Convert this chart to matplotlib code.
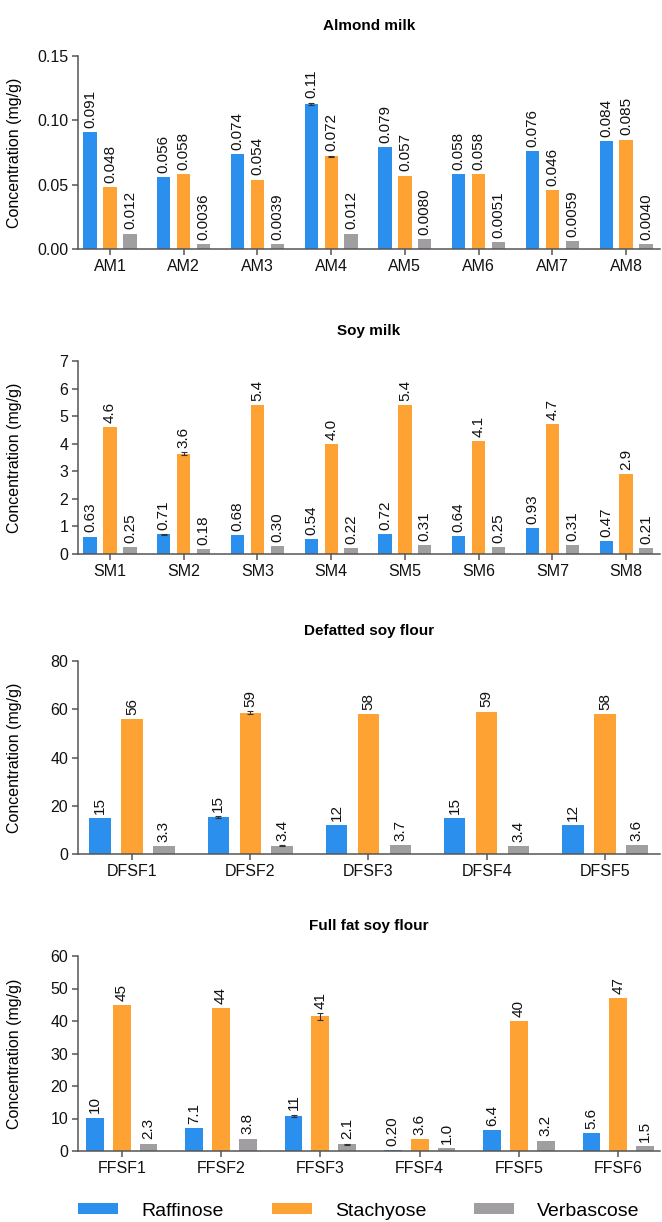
import math

import matplotlib
matplotlib.use("Agg")
import matplotlib.pyplot as plt
import numpy as np
from matplotlib.patches import Patch

plt.rcParams['font.family'] = ['Liberation Sans', 'DejaVu Sans']

# sugar content per sample (mg/g)
am_samples = ["AM1", "AM2", "AM3", "AM4", "AM5", "AM6", "AM7", "AM8"]
am_raffinose = [0.091, 0.056, 0.074, 0.113, 0.079, 0.058, 0.076, 0.084]
am_stachyose = [0.048, 0.058, 0.054, 0.072, 0.057, 0.058, 0.046, 0.085]
am_verbascose = [0.012, 0.0036, 0.0039, 0.012, 0.0080, 0.0051, 0.0059, 0.0040]
am_err_raf = [0, 0, 0, 0.0008, 0, 0, 0, 0]
am_err_sta = [0, 0, 0, 0.0006, 0, 0, 0, 0]

sm_samples = ["SM1", "SM2", "SM3", "SM4", "SM5", "SM6", "SM7", "SM8"]
sm_raffinose = [0.63, 0.71, 0.68, 0.54, 0.72, 0.64, 0.93, 0.47]
sm_stachyose = [4.6, 3.64, 5.4, 4.0, 5.4, 4.1, 4.7, 2.9]
sm_verbascose = [0.25, 0.18, 0.30, 0.22, 0.31, 0.25, 0.31, 0.21]
sm_err_raf = [0, 0.02, 0, 0, 0, 0, 0, 0]
sm_err_sta = [0, 0.05, 0, 0, 0, 0, 0, 0]

dfsf_samples = ["DFSF1", "DFSF2", "DFSF3", "DFSF4", "DFSF5"]
dfsf_raffinose = [15, 15.3, 12, 15, 12]
dfsf_stachyose = [56, 58.6, 58, 59, 58]
dfsf_verbascose = [3.3, 3.4, 3.7, 3.4, 3.6]
dfsf_err_raf = [0, 0.3, 0, 0, 0]
dfsf_err_sta = [0, 0.7, 0, 0, 0]
dfsf_err_ver = [0, 0.2, 0, 0, 0]

ffsf_samples = ["FFSF1", "FFSF2", "FFSF3", "FFSF4", "FFSF5", "FFSF6"]
ffsf_raffinose = [10.3, 7.1, 10.8, 0.20, 6.4, 5.6]
ffsf_stachyose = [45, 44, 41.4, 3.6, 40, 47]
ffsf_verbascose = [2.3, 3.8, 2.1, 1.0, 3.2, 1.5]
ffsf_err_raf = [0, 0, 0.4, 0, 0, 0]
ffsf_err_sta = [0, 0, 1.0, 0, 0, 0]
ffsf_err_ver = [0, 0, 0.2, 0, 0, 0]

sugars = ["Raffinose", "Stachyose", "Verbascose"]
colors = ["#2B8FEE", "#FFA234", "#A09EA0"]


def two_sig(v):
    if v == 0:
        return "0"
    d = 1 - int(math.floor(math.log10(abs(v))))
    return f"{v:.{max(d, 0)}f}"


def panel(ax, title, samples, series, errors, ymax, yticks, yfmt, xlim):
    x = np.arange(len(samples))
    offsets = [-0.27, 0.0, 0.27]
    for k, (vals, errs) in enumerate(zip(series, errors)):
        pos = x + offsets[k]
        ax.bar(pos, vals, width=0.18, color=colors[k], zorder=2)
        # only a few samples have a visible spread
        for px, v, e in zip(pos, vals, errs):
            if e > 0:
                ax.errorbar(px, v, yerr=e, fmt="none", ecolor="#333333",
                            elinewidth=0.8, capsize=2, capthick=0.8, zorder=3)
            ax.annotate(two_sig(v), (px, v + e), xytext=(0, 3), textcoords="offset points",
                        ha="center", va="bottom", rotation=90, fontsize=11, color="#111111")
    ax.set_xlim(*xlim)
    ax.set_ylim(0, ymax)
    ax.set_yticks(yticks)
    ax.set_yticklabels([yfmt.format(t) for t in yticks])
    ax.set_xticks(x)
    ax.set_xticklabels(samples)
    ax.set_title(title, fontsize=11, fontweight="bold", pad=19)
    ax.set_ylabel("Concentration (mg/g)", fontsize=11.5)
    ax.yaxis.set_label_coords(-0.096, 0.5)
    for side in ["top", "right"]:
        ax.spines[side].set_visible(False)
    for side in ["left", "bottom"]:
        ax.spines[side].set_color("#555555")
        ax.spines[side].set_linewidth(1.1)
    ax.tick_params(axis="both", labelsize=11.5, length=4, width=1.1, color="#555555",
                   labelcolor="#111111", pad=3)


fig = plt.figure(figsize=(6.62, 12.22), dpi=100)
W, H = 662, 1222
left, right = 78, 660


def axes_at(top, bottom):
    return fig.add_axes([left / W, 1 - bottom / H, (right - left) / W, (bottom - top) / H])


ax1 = axes_at(56, 249)
panel(ax1, "Almond milk", am_samples, [am_raffinose, am_stachyose, am_verbascose],
      [am_err_raf, am_err_sta, [0] * 8], 0.15, [0, 0.05, 0.10, 0.15], "{:.2f}", (-0.434, 7.46))

ax2 = axes_at(361, 554)
panel(ax2, "Soy milk", sm_samples, [sm_raffinose, sm_stachyose, sm_verbascose],
      [sm_err_raf, sm_err_sta, [0] * 8], 7, list(range(0, 8)), "{:d}", (-0.434, 7.46))

ax3 = axes_at(661, 854)
panel(ax3, "Defatted soy flour", dfsf_samples, [dfsf_raffinose, dfsf_stachyose, dfsf_verbascose],
      [dfsf_err_raf, dfsf_err_sta, dfsf_err_ver], 80, [0, 20, 40, 60, 80], "{:d}", (-0.456, 4.465))

ax4 = axes_at(956, 1151)
panel(ax4, "Full fat soy flour", ffsf_samples, [ffsf_raffinose, ffsf_stachyose, ffsf_verbascose],
      [ffsf_err_raf, ffsf_err_sta, ffsf_err_ver], 60, [0, 10, 20, 30, 40, 50, 60], "{:d}", (-0.44, 5.42))

handles = [Patch(facecolor=c, edgecolor="none") for c in colors]
fig.legend(handles, sugars, loc="center", bbox_to_anchor=(359 / W, 1 - 1211 / H), ncol=3,
           frameon=False, fontsize=14, handlelength=2.05, handleheight=0.5,
           handletextpad=1.2, columnspacing=2.45)

fig.savefig("out.png", dpi=100)
